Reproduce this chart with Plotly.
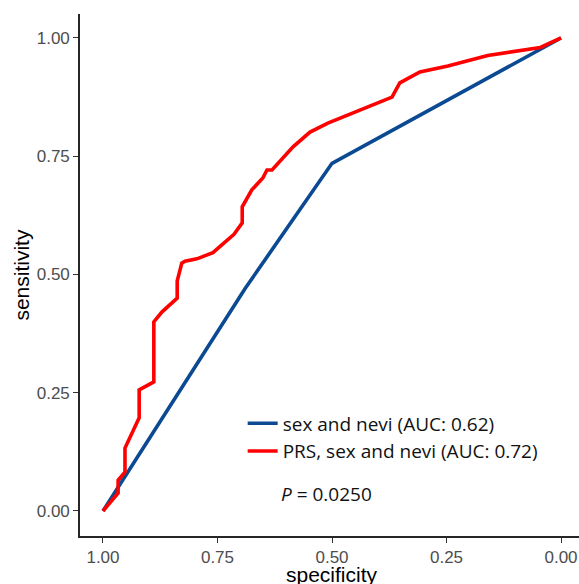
import plotly.graph_objects as go

# Data
blue_spec = [1.00, 0.69, 0.50, 0.00]
blue_sens = [0.00, 0.47, 0.735, 1.00]

red_spec = [1.000, 0.967, 0.967, 0.952, 0.952, 0.921, 0.921, 0.889, 0.889, 0.871,
            0.838, 0.838, 0.828, 0.821, 0.795, 0.760, 0.714, 0.696, 0.696, 0.675,
            0.651, 0.642, 0.631, 0.585, 0.548, 0.509, 0.369, 0.352, 0.308, 0.286,
            0.247, 0.160, 0.045, 0.000]
red_sens = [0.000, 0.038, 0.065, 0.082, 0.133, 0.197, 0.256, 0.273, 0.400, 0.421,
            0.450, 0.486, 0.524, 0.528, 0.533, 0.546, 0.585, 0.609, 0.643, 0.679,
            0.704, 0.721, 0.721, 0.770, 0.801, 0.820, 0.875, 0.905, 0.928, 0.932,
            0.941, 0.963, 0.980, 1.000]

tick_vals = [0.00, 0.25, 0.50, 0.75, 1.00]
tick_text = ["0.00", "0.25", "0.50", "0.75", "1.00"]

blue_name = "sex and nevi (AUC: 0.62)"
red_name = "PRS, sex and nevi (AUC: 0.72)"
p_text = "<i>P</i> = 0.0250"
x_title = "specificity"
y_title = "sensitivity"

fig = go.Figure()
fig.add_trace(go.Scatter(x=blue_spec, y=blue_sens, mode="lines", name=blue_name,
                         legendgroup="a",
                         line=dict(color="#0B4A93", width=3.6)))
fig.add_trace(go.Scatter(x=red_spec, y=red_sens, mode="lines", name=red_name,
                         legendgroup="b",
                         line=dict(color="#FF0000", width=3.6)))

fig.add_annotation(x=0.615, y=0.036, xref="x", yref="y", text=p_text,
                   showarrow=False, xanchor="left", yanchor="middle",
                   font=dict(family="Open Sans", size=19, color="#111111"))

# axis titles
fig.add_annotation(x=0.5, y=-0.0747, xref="x", yref="paper", text=x_title,
                   showarrow=False, xanchor="center", yanchor="middle",
                   font=dict(family="Liberation Sans", size=21, color="#000000"))
fig.add_annotation(x=-0.118, y=0.5, xref="paper", yref="y", text=y_title,
                   showarrow=False, xanchor="center", yanchor="middle", textangle=-90,
                   font=dict(family="Liberation Sans", size=21, color="#000000"))

axis_common = dict(
    showgrid=False, zeroline=False, showline=True, linecolor="#262626", linewidth=1.6,
    ticks="outside", ticklen=5, tickwidth=1.2, tickcolor="#333333",
    tickvals=tick_vals, ticktext=tick_text, automargin=False,
    tickfont=dict(family="Liberation Sans", size=17, color="#4D4D4D"),
)

fig.update_layout(
    width=579, height=584,
    margin=dict(l=80, r=0, t=14, b=48),
    plot_bgcolor="white", paper_bgcolor="white",
    xaxis=dict(range=[1.0502, -0.0393], **axis_common),
    yaxis=dict(range=[-0.0529, 1.0507], **axis_common),
    showlegend=True,
    legend=dict(x=0.326, y=0.252, xanchor="left", yanchor="top",
                bgcolor="rgba(0,0,0,0)", borderwidth=0,
                tracegroupgap=0, traceorder="grouped",
                font=dict(family="Open Sans", size=19, color="#111111")),
)

fig.write_html("out.html")
